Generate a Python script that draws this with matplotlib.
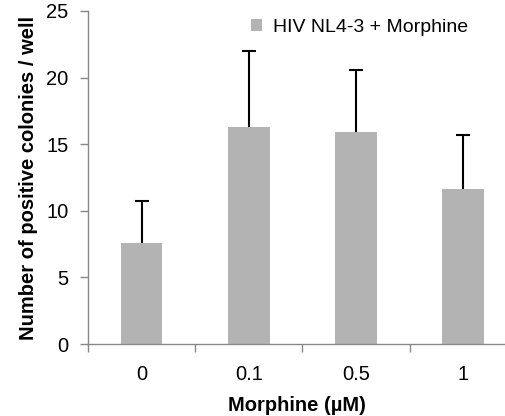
import matplotlib
matplotlib.use("Agg")
import matplotlib.pyplot as plt
import numpy as np

categories = ["0", "0.1", "0.5", "1"]
values = [7.56, 16.3, 15.9, 11.6]
errors = [3.2, 5.7, 4.7, 4.1]
series_name = "HIV NL4-3 + Morphine"

plt.rcParams['font.family'] = ['Liberation Sans', 'DejaVu Sans']

fig = plt.figure(figsize=(5.06, 4.16), dpi=100)
ax = fig.add_axes([88/506, 1-344/416, (506-88)/506, (344-11)/416])

x = np.arange(len(categories))
ax.bar(x, values, width=0.39, color="#b3b3b3", label=series_name, zorder=2)
eb = ax.errorbar(x, values, yerr=[np.zeros(len(values)), errors], fmt="none",
                 ecolor="black", elinewidth=1.5, capsize=5, capthick=1.5, zorder=3)
# hide the caps that sit on the bar tops
for cl in eb[1]:
    if np.allclose(cl.get_ydata(), values):
        cl.set_visible(False)

ax.set_xlim(-0.5, 3.40)
ax.set_ylim(0, 25)
ax.set_yticks([0, 5, 10, 15, 20, 25])
ax.set_xticks(x)
ax.set_xticklabels(categories, fontsize=14.5)
ax.set_xticks([-0.5, 0.5, 1.5, 2.5], minor=True)
ax.tick_params(axis="x", which="major", length=0, pad=15)
ax.tick_params(axis="x", which="minor", length=6, color="#888888", width=1)
ax.tick_params(axis="y", length=6, color="#888888", width=1, labelsize=14.5, pad=8)

for s in ["top", "right"]:
    ax.spines[s].set_visible(False)
for s in ["left", "bottom"]:
    ax.spines[s].set_color("#888888")
    ax.spines[s].set_linewidth(1)

ax.set_xlabel("Morphine (µM)", fontsize=14.5, fontweight="bold", labelpad=9)
ax.set_ylabel("Number of positive colonies / well", fontsize=14.5, fontweight="bold", labelpad=6)

ax.legend(loc="upper left", bbox_to_anchor=((243-88)/418, 1.0), frameon=False, fontsize=14,
          handlelength=0.6, handleheight=0.6, handletextpad=0.55, borderaxespad=0)

fig.savefig("out.png", dpi=100)
